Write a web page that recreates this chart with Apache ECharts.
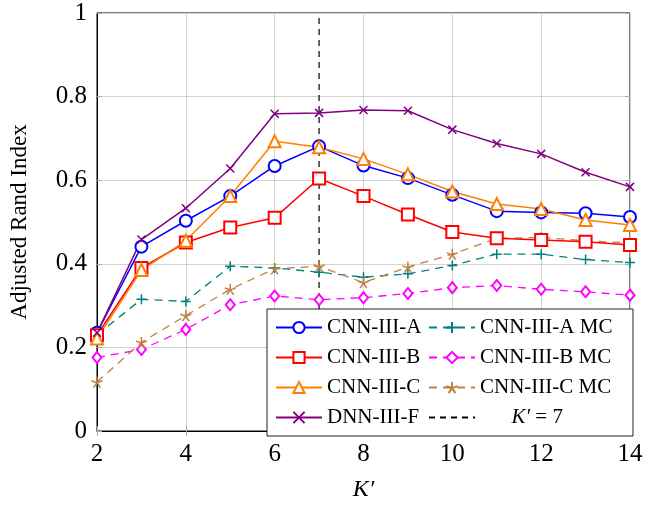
<!DOCTYPE html>
<html><head><meta charset="utf-8">
<script src="https://cdn.jsdelivr.net/npm/echarts@6/dist/echarts.min.js"></script>
<style>html,body{margin:0;padding:0;background:#fff}#c{width:670px;height:507px}</style>
</head><body><div id="c"></div>
<script>
const kValues = [2,3,4,5,6,7,8,9,10,11,12,13,14];
const cnnA   = [0.235,0.441,0.503,0.562,0.634,0.681,0.635,0.605,0.565,0.526,0.523,0.521,0.512];
const cnnB   = [0.229,0.390,0.451,0.487,0.510,0.604,0.562,0.518,0.476,0.461,0.457,0.453,0.445];
const cnnC   = [0.221,0.385,0.455,0.562,0.693,0.679,0.651,0.614,0.573,0.543,0.531,0.505,0.493];
const dnnF   = [0.235,0.458,0.533,0.628,0.759,0.761,0.768,0.766,0.721,0.688,0.663,0.619,0.584];
const cnnAMC = [0.230,0.315,0.310,0.394,0.390,0.380,0.368,0.376,0.396,0.423,0.423,0.410,0.403];
const cnnBMC = [0.176,0.195,0.243,0.302,0.323,0.314,0.319,0.329,0.343,0.348,0.339,0.333,0.325];
const cnnCMC = [0.117,0.212,0.276,0.339,0.388,0.394,0.355,0.392,0.423,0.461,0.463,0.455,0.450];
const kLine = 7;
const yRange = [0, 1];
const xTicks = {min: 2, max: 14, interval: 2};
const yTicks = {min: 0, max: 1, interval: 0.2};

const FONT = 'Liberation Serif';
const pairs = arr => arr.map((v,i)=>[kValues[i], v]);
const SYM_X = 'path://M0,0L10,10M10,0L0,10';
const SYM_PLUS = 'path://M5,0L5,10M0,5L10,5';
const SYM_STAR = 'path://M5,5L5,0M5,5L0.245,3.455M5,5L2.061,9.045M5,5L7.939,9.045M5,5L9.755,3.455';

function itemFor(symbol, color){
  if (symbol.startsWith('path')) return {color:'rgba(0,0,0,0)', borderColor:color, borderWidth:1.5};
  return {color:color, borderWidth:1.5};
}
function solid(name, data, color, symbol, size){
  return {name, type:'line', data:pairs(data), symbol, symbolSize:size,
    lineStyle:{color, width:1.5}, itemStyle:itemFor(symbol, color), color, z:3};
}
function dashed(name, data, color, symbol, size){
  return {name, type:'line', data:pairs(data), symbol, symbolSize:size,
    lineStyle:{color, width:1.3, type:[8,6]}, itemStyle:itemFor(symbol, color), color, z:2};
}
const KNAME = 'K′ = 7';
const series = [
  solid('CNN-III-A', cnnA, '#0000ff', 'emptyCircle', 12),
  dashed('CNN-III-A MC', cnnAMC, '#008080', SYM_PLUS, 10),
  solid('CNN-III-B', cnnB, '#ff0000', 'emptyRect', 12),
  dashed('CNN-III-B MC', cnnBMC, '#ff00ff', 'emptyDiamond', [9,11]),
  solid('CNN-III-C', cnnC, '#ff8000', 'emptyTriangle', 12),
  dashed('CNN-III-C MC', cnnCMC, '#bf8040', SYM_STAR, 11),
  solid('DNN-III-F', dnnF, '#800080', SYM_X, 8),
  {name: KNAME, type:'line', data:[[kLine, yRange[0]],[kLine, yRange[1]]], symbol:'none',
   lineStyle:{color:'#000', width:1.2, type:[6,5]}, itemStyle:{color:'#000'}, color:'#000', z:1}
];

const chart = echarts.init(document.getElementById('c'), null, {renderer:'canvas'});
chart.setOption({
  animation:false,
  backgroundColor:'#fff',
  textStyle:{fontFamily:FONT},
  grid:{left:97, right:40, top:13, bottom:70, show:true, borderColor:'#000', borderWidth:1, backgroundColor:'transparent'},
  xAxis:[{type:'value', min:xTicks.min, max:xTicks.max, interval:xTicks.interval,
    name:'K′', nameLocation:'middle', nameGap:47,
    nameTextStyle:{fontFamily:FONT, fontSize:24, fontStyle:'italic', color:'#000'},
    axisLine:{lineStyle:{color:'#000', width:1}},
    axisTick:{inside:true, length:5, lineStyle:{color:'#aaa'}},
    axisLabel:{fontFamily:FONT, fontSize:25, color:'#000', margin:11},
    splitLine:{show:true, lineStyle:{color:'#d3d3d3', width:1}}},
   {type:'value', position:'top', min:xTicks.min, max:xTicks.max, interval:xTicks.interval,
    axisLine:{show:false}, axisLabel:{show:false}, splitLine:{show:false},
    axisTick:{inside:true, length:5, lineStyle:{color:'#aaa'}}}],
  yAxis:[{type:'value', min:yTicks.min, max:yTicks.max, interval:yTicks.interval,
    name:'Adjusted Rand Index', nameLocation:'middle', nameGap:66,
    nameTextStyle:{fontFamily:FONT, fontSize:23, color:'#000'},
    axisLine:{lineStyle:{color:'#000', width:1}},
    axisTick:{inside:true, length:5, lineStyle:{color:'#aaa'}},
    axisLabel:{fontFamily:FONT, fontSize:25, color:'#000', margin:10},
    splitLine:{show:true, lineStyle:{color:'#d3d3d3', width:1}}},
   {type:'value', position:'right', min:yTicks.min, max:yTicks.max, interval:yTicks.interval,
    axisLine:{show:false}, axisLabel:{show:false}, splitLine:{show:false},
    axisTick:{inside:true, length:5, lineStyle:{color:'#aaa'}}}],
  legend:{
    left:267, top:309, width:350, orient:'horizontal',
    padding:[6,8,6,8], itemGap:5, itemWidth:46, itemHeight:14,
    backgroundColor:'#fff', borderColor:'#222', borderWidth:1,
    textStyle:{fontFamily:FONT, fontSize:21, color:'#000', lineHeight:25,
      rich:{i:{fontFamily:FONT, fontSize:21, fontStyle:'italic', color:'#000'}, n:{fontFamily:FONT, fontSize:21, color:'#000'}}},
    formatter: name => name === KNAME ? '      {i|K′}{n| = 7}' : name,
    data:[
      {name:'CNN-III-A', textStyle:{width:96}}, {name:'CNN-III-A MC', textStyle:{width:145}},
      {name:'CNN-III-B', textStyle:{width:96}}, {name:'CNN-III-B MC', textStyle:{width:145}},
      {name:'CNN-III-C', textStyle:{width:96}}, {name:'CNN-III-C MC', textStyle:{width:145}},
      {name:'DNN-III-F', textStyle:{width:96}}, {name:KNAME, textStyle:{width:145}, itemStyle:{opacity:0}}
    ]
  },
  series
});
</script></body></html>
